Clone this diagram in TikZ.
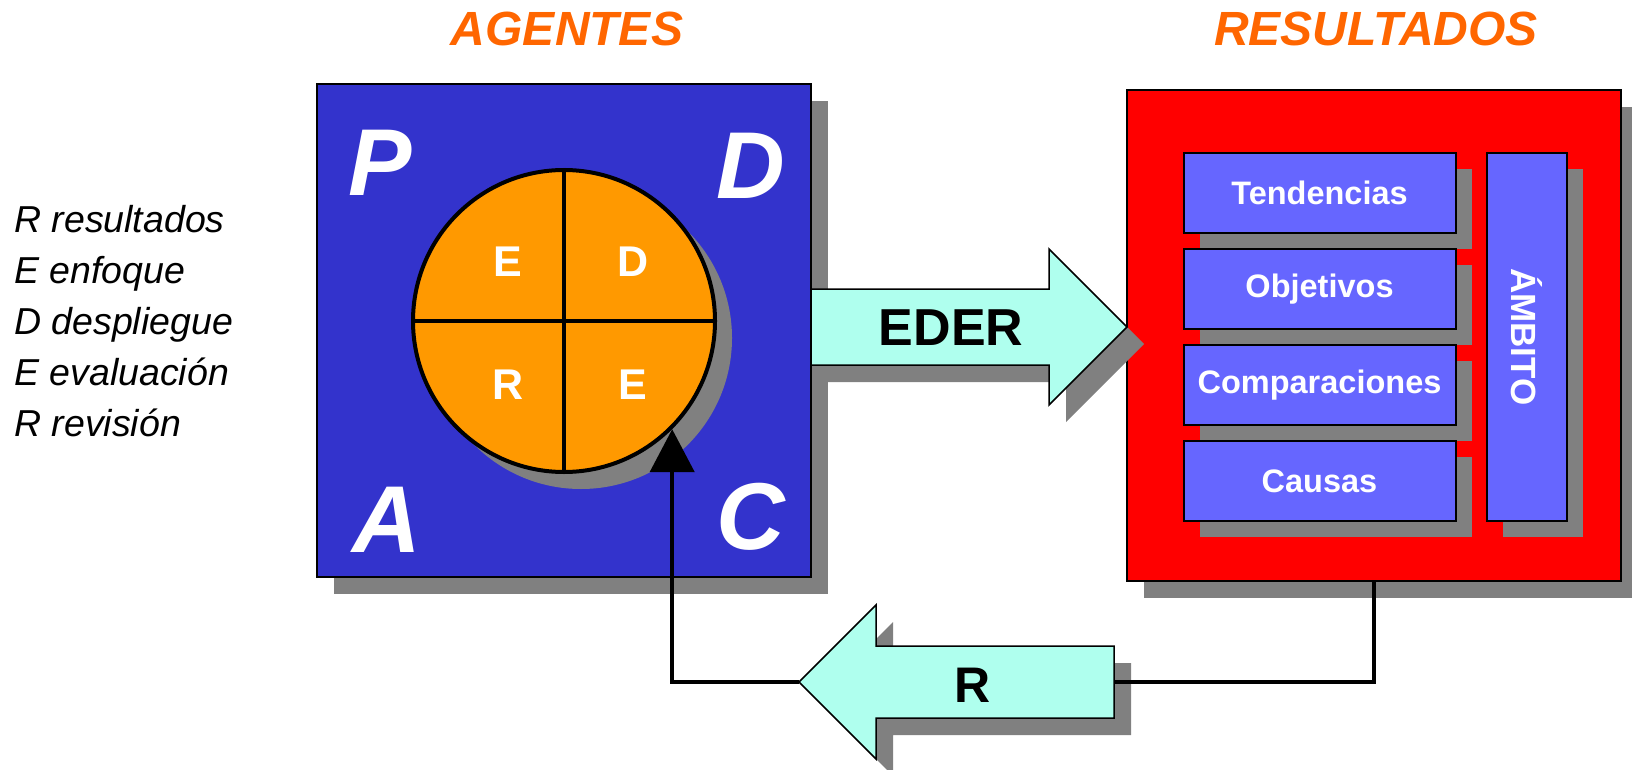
\documentclass[tikz,border=0pt]{standalone}
\usepackage{fontspec}
\setmainfont{Liberation Sans}
\usetikzlibrary{shadows,arrows.meta,calc}
\definecolor{agblue}{HTML}{3333CC}
\definecolor{cirorange}{HTML}{FF9900}
\definecolor{resred}{HTML}{FF0000}
\definecolor{itemblue}{HTML}{6666FF}
\definecolor{arrcyan}{HTML}{AFFFEE}
\definecolor{titleorange}{HTML}{FF6600}
\definecolor{shadowgray}{HTML}{808080}
\begin{document}
\begin{tikzpicture}[x=1pt,y=-1pt,
  bigshadow/.style={drop shadow={shadow xshift=17pt,shadow yshift=-17pt,opacity=1,fill=shadowgray}},
  smallshadow/.style={drop shadow={shadow xshift=16pt,shadow yshift=-16pt,opacity=1,fill=shadowgray}},
  title/.style={text=titleorange,font=\bfseries\itshape\fontsize{48}{50}\selectfont,inner sep=0pt},
  legend/.style={anchor=base west,inner sep=0pt,font=\itshape\fontsize{37.5}{40}\selectfont},
  bigletter/.style={text=white,font=\bfseries\itshape\fontsize{95}{100}\selectfont,inner sep=0pt},
  cirletter/.style={text=white,font=\bfseries\fontsize{43}{45}\selectfont,inner sep=0pt},
  itembox/.style={draw=black,line width=2pt,fill=itemblue,text=white,
    font=\bfseries\fontsize{32.5}{34}\selectfont,minimum width=272pt,minimum height=80pt,
    inner sep=0pt,smallshadow},
  bigarrow/.style={fill=arrcyan,draw=black,line width=1.5pt,line join=miter},
  arrshadow/.style={fill=shadowgray},
  arrlabel/.style={font=\bfseries\fontsize{52}{54}\selectfont,inner sep=0pt},
  conn/.style={draw=black,line width=4.5pt}
]
\useasboundingbox (0,0) rectangle (1632,770);

% titles
\node[title] (tAg) at (567,29) {AGENTES};
\node[title] (tRes) at (1376,29) {RESULTADOS};

% legend
\node[legend] (l1) at (14,232) {R resultados};
\node[legend] (l2) at (14,283) {E enfoque};
\node[legend] (l3) at (14,334) {D despliegue};
\node[legend] (l4) at (14,385) {E evaluación};
\node[legend] (l5) at (14,436) {R revisión};

% agents box
\node[draw=black,line width=1.5pt,fill=agblue,minimum width=494pt,minimum height=493pt,
  inner sep=0pt,bigshadow] (ag) at (564,330.5) {};
\node[bigletter] (lP) at (380,163) {P};
\node[bigletter] (lD) at (751,166) {D};
\node[bigletter] (lA) at (387,520) {A};
\node[bigletter] (lC) at (751,517) {C};

% circle
\node[circle,draw=black,line width=4pt,fill=cirorange,minimum size=302pt,inner sep=0pt,
  bigshadow] (circ) at (564,321) {};
\draw[line width=3.5pt] (circ.north) -- (circ.south);
\draw[line width=3.5pt] (circ.west) -- (circ.east);
\node[cirletter] (cE1) at (508,262) {E};
\node[cirletter] (cD) at (633,262) {D};
\node[cirletter] (cR) at (508,385) {R};
\node[cirletter] (cE2) at (633,385) {E};

% results box
\node[draw=black,line width=2pt,fill=resred,minimum width=494pt,minimum height=491pt,
  inner sep=0pt,bigshadow] (res) at (1374,335.5) {};
\node[itembox] (tend) at (1319.5,193) {Tendencias};
\node[itembox] (obj) at (1319.5,289) {Objetivos};
\node[itembox] (comp) at (1319.5,385) {Comparaciones};
\node[itembox] (caus) at (1319.5,481) {Causas};
\node[draw=black,line width=2pt,fill=itemblue,text=white,minimum width=80pt,minimum height=368pt,
  inner sep=0pt,smallshadow,font=\bfseries\fontsize{35}{37}\selectfont] (amb) at (1527,337)
  {\rotatebox{-90}{ÁMBITO}};

% EDER arrow
\fill[arrshadow,shift={(17,17)}] (811,289) -- (1049,289) -- (1049,249) -- (1127,327)
  -- (1049,405) -- (1049,365) -- (811,365) -- cycle;
\filldraw[bigarrow] (811,289) -- (1049,289) -- (1049,249) -- (1127,327)
  -- (1049,405) -- (1049,365) -- (811,365) -- cycle;
\node[arrlabel] (eder) at (951,328) {EDER};

% R arrow
\fill[arrshadow,shift={(17,17)}] (1114,646) -- (876,646) -- (876,605) -- (799,682)
  -- (876,759) -- (876,718) -- (1114,718) -- cycle;
\filldraw[bigarrow] (1114,646) -- (876,646) -- (876,605) -- (799,682)
  -- (876,759) -- (876,718) -- (1114,718) -- cycle;
\coordinate (rEnd) at (1114,682);
\coordinate (rTip) at (799,682);
\node[arrlabel,font=\bfseries\fontsize{50}{52}\selectfont] (rlab) at (973,685) {R};

% connectors
\draw[conn] (res.south) |- (rEnd);
\draw[conn,-{Triangle[length=43pt,width=44pt]}] (rTip) -| (circ.-45);
\end{tikzpicture}
\end{document}
